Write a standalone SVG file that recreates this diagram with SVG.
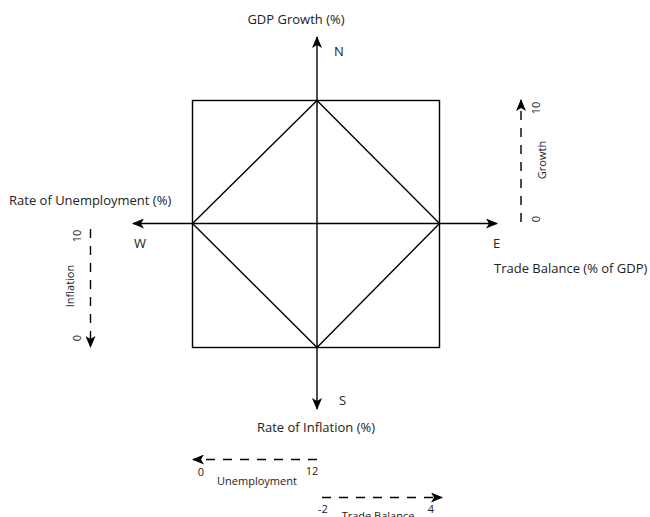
<svg xmlns="http://www.w3.org/2000/svg" width="650" height="517" viewBox="0 0 650 517">
<style>
.ln{stroke:#000;stroke-width:1.4;fill:none}
.ds{stroke:#000;stroke-width:1.4;fill:none;stroke-dasharray:9 8}
text{font-family:"Open Sans","Liberation Sans",sans-serif;font-size:13px;fill:#222}
.sm{font-size:11px}
</style>
<defs>
<marker id="ah" viewBox="0 0 12 10" refX="11" refY="5" markerWidth="12" markerHeight="10" markerUnits="userSpaceOnUse" orient="auto">
<path d="M0,0 L12,5 L0,10 L3,5 Z" fill="#000"/>
</marker>
</defs>
<rect width="650" height="517" fill="#fff"/>
<g id="square">
<rect class="ln" x="192.5" y="100.5" width="247" height="247"/>
<path class="ln" d="M317,100.5 L439.5,223.5 L317,347.5 L192.5,223.5 Z"/>
</g>
<g id="connectors">
<line class="ln" x1="317" y1="223.5" x2="317" y2="37" marker-end="url(#ah)"/>
<line class="ln" x1="317" y1="223.5" x2="317" y2="409" marker-end="url(#ah)"/>
<line class="ln" x1="317" y1="223.5" x2="133" y2="223.5" marker-end="url(#ah)"/>
<line class="ln" x1="317" y1="223.5" x2="497" y2="223.5" marker-end="url(#ah)"/>
<line class="ds" x1="521" y1="222" x2="521" y2="100" marker-end="url(#ah)"/>
<line class="ds" x1="90.5" y1="229" x2="90.5" y2="347" marker-end="url(#ah)"/>
<line class="ds" x1="317" y1="459.5" x2="193" y2="459.5" marker-end="url(#ah)"/>
<line class="ds" x1="322" y1="497.5" x2="442" y2="497.5" marker-end="url(#ah)"/>
</g>
<g id="labels">
<text x="296" y="24" text-anchor="middle">GDP Growth (%)</text>
<text x="334" y="56">N</text>
<text x="134" y="248">W</text>
<text x="493" y="248">E</text>
<text x="339" y="405">S</text>
<text x="316" y="432" text-anchor="middle">Rate of Inflation (%)</text>
<text x="9" y="205">Rate of Unemployment (%)</text>
<text x="494" y="273">Trade Balance (% of GDP)</text>
</g>
<g id="growth-scale">
<text class="sm" transform="translate(540,108) rotate(-90)" text-anchor="middle">10</text>
<text class="sm" transform="translate(540,219) rotate(-90)" text-anchor="middle">0</text>
<text class="sm" transform="translate(546,160) rotate(-90)" text-anchor="middle">Growth</text>
</g>
<g id="inflation-scale">
<text class="sm" transform="translate(81,236) rotate(-90)" text-anchor="middle">10</text>
<text class="sm" transform="translate(74,286) rotate(-90)" text-anchor="middle">Inflation</text>
<text class="sm" transform="translate(81,338) rotate(-90)" text-anchor="middle">0</text>
</g>
<g id="unemployment-scale">
<text class="sm" x="201" y="476" text-anchor="middle">0</text>
<text class="sm" x="312" y="475" text-anchor="middle">12</text>
<text class="sm" x="257" y="485" text-anchor="middle">Unemployment</text>
</g>
<g id="trade-scale">
<text class="sm" x="323" y="513" text-anchor="middle">-2</text>
<text class="sm" x="431" y="513" text-anchor="middle">4</text>
<text class="sm" x="378" y="520" text-anchor="middle">Trade Balance</text>
</g>
</svg>
